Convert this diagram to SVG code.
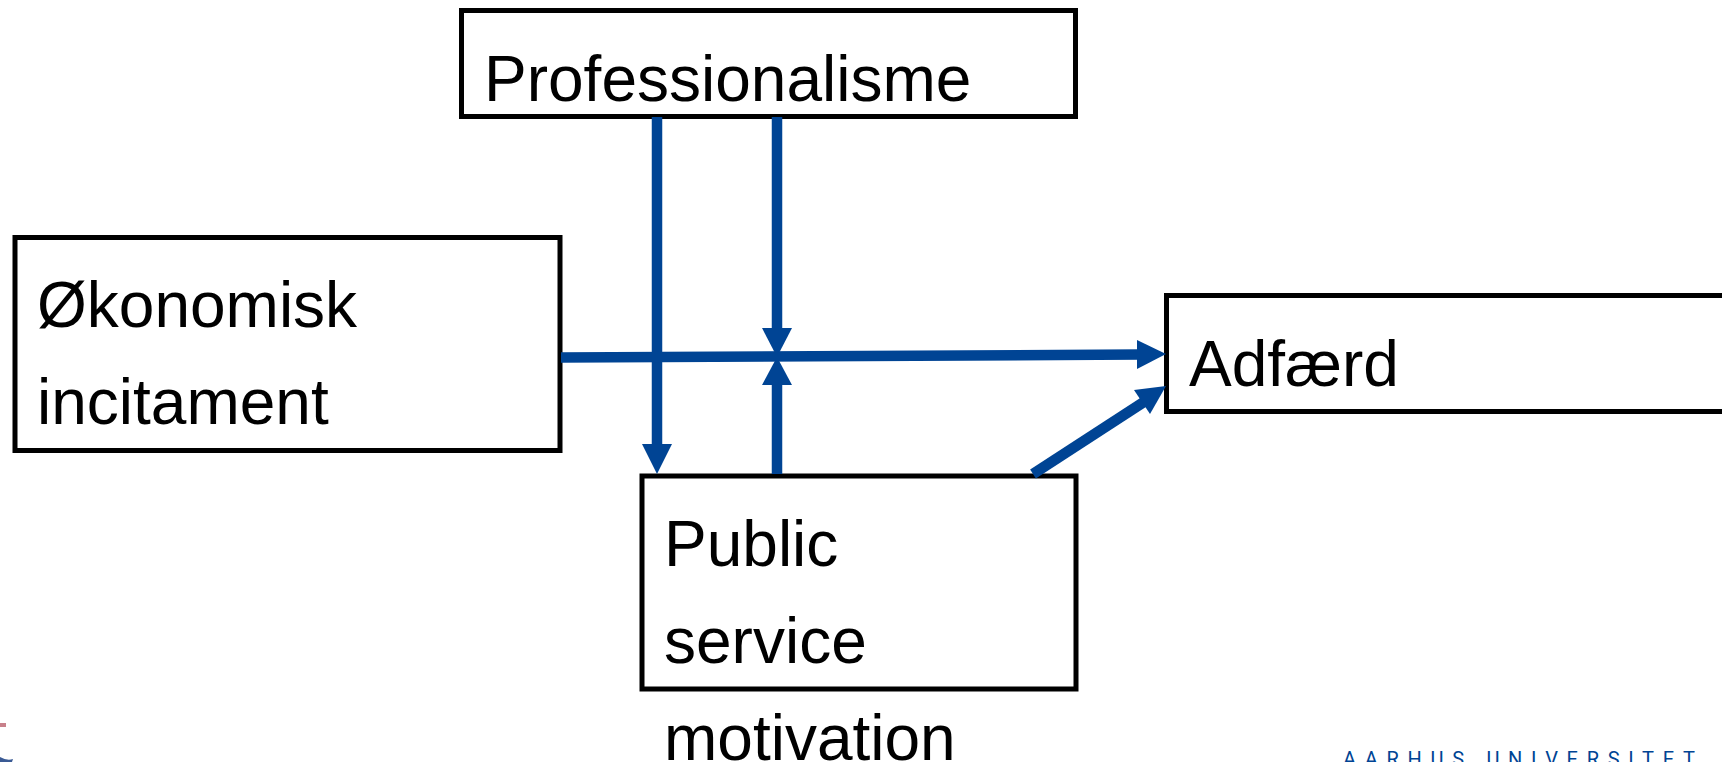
<svg xmlns="http://www.w3.org/2000/svg" width="1722" height="762" viewBox="0 0 1722 762">
<style>
.box{fill:#fff;stroke:#000;stroke-width:5}
.t{font-family:"Liberation Sans",Arial,sans-serif;font-size:64px;fill:#000}
.c{stroke:#004494;stroke-width:10.5;fill:none}
.h{fill:#004494}
</style>
<rect width="1722" height="762" fill="#fff"/>
<g id="logo">
<rect x="0" y="723" width="6" height="4" fill="#c8808a"/>
<path d="M0 757Q7 761 13 759L12 762H0Z" fill="#3a5a94"/>
</g>
<g id="professionalisme"><rect class="box" x="461.500" y="10.500" width="614" height="106"/><text class="t" x="484" y="101">Professionalisme</text></g>
<g id="okonomisk"><rect class="box" x="15" y="237.500" width="545" height="213"/><text class="t" x="37" y="327">Økonomisk</text><text class="t" x="37" y="424">incitament</text></g>
<g id="psm"><rect class="box" x="642" y="476" width="434" height="213"/><text class="t" x="664" y="566">Public</text><text class="t" x="664" y="663">service</text><text class="t" x="664" y="760">motivation</text></g>
<g id="adfaerd"><rect class="box" x="1166.500" y="295.500" width="570" height="116"/><text class="t" x="1189" y="386">Adfærd</text></g>
<g id="connectors">
<line class="c" x1="657" y1="117" x2="657" y2="446"/><path class="h" d="M642 444H672L657 474Z"/>
<line class="c" x1="777" y1="117" x2="777" y2="330"/><path class="h" d="M762 328H792L777 357Z"/>
<line class="c" x1="777" y1="474" x2="777" y2="384"/><path class="h" d="M762 385H792L777 357Z"/>
<line class="c" x1="561" y1="357.500" x2="1140" y2="354.500"/><path class="h" d="M1137 340V369L1166 354Z"/>
<line class="c" x1="1033" y1="474" x2="1150" y2="398"/><path class="h" d="M1134 390L1166 386L1150 414Z"/>
</g>
<text x="1343" y="766" font-family="Roboto,'Liberation Sans',sans-serif" font-size="20" letter-spacing="8.7" fill="#004494">AARHUS UNIVERSITET</text>
</svg>
